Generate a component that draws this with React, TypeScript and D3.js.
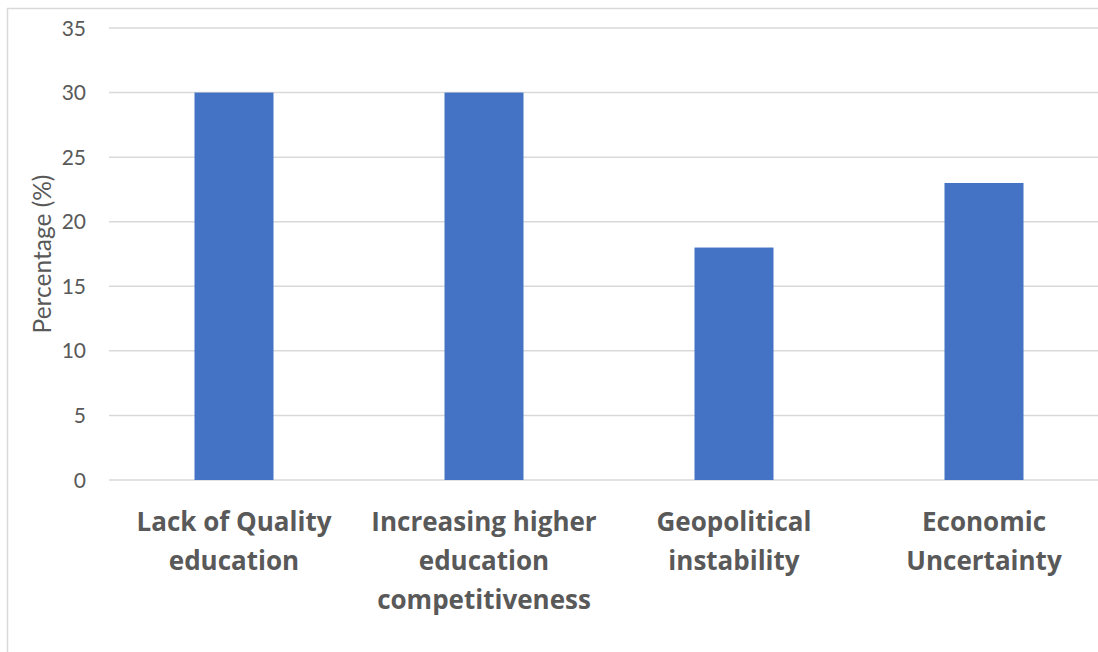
import React from "react";
import * as d3 from "d3";

// Survey results: share of respondents per factor
const categories: string[][] = [
  ["Lack of Quality", "education"],
  ["Increasing higher", "education", "competitiveness"],
  ["Geopolitical", "instability"],
  ["Economic", "Uncertainty"],
];
const values: number[] = [30, 30, 18, 23];
const yTicks: number[] = [0, 5, 10, 15, 20, 25, 30, 35];
const yLabel = "Percentage (%)";

const W = 1098;
const H = 652;
const plot = { left: 109, right: 1109, top: 28, bottom: 480 };

export default function App() {
  const keys = categories.map((c) => c.join(" "));
  const x = d3
    .scaleBand<string>()
    .domain(keys)
    .range([plot.left, plot.right])
    .paddingInner(0.684)
    .paddingOuter(0.342);
  const y = d3.scaleLinear().domain([0, 35]).range([plot.bottom, plot.top]);

  const font = "Lato, 'Open Sans', sans-serif";
  const labelFont = "'Open Sans', Lato, sans-serif";
  const textColor = "#595959";

  return (
    <svg
      width={W}
      height={H}
      style={{ position: "absolute", left: 0, top: 0, background: "#fff" }}
    >
      {/* chart frame */}
      <rect x={7.5} y={8.5} width={W + 20} height={H + 20} fill="#fff" stroke="#d9d9d9" strokeWidth={1.5} />

      {/* horizontal gridlines */}
      {yTicks.map((t) => (
        <line
          key={"g" + t}
          x1={plot.left}
          x2={plot.right}
          y1={y(t)}
          y2={y(t)}
          stroke="#d9d9d9"
          strokeWidth={1.5}
        />
      ))}

      {/* y tick labels */}
      {yTicks.map((t) => (
        <text
          key={"t" + t}
          x={86}
          y={y(t)}
          dy="0.36em"
          textAnchor="end"
          fontFamily={font}
          fontSize={21}
          fill={textColor}
        >
          {t}
        </text>
      ))}

      {/* y axis title */}
      <text
        transform={`translate(51, ${(y(0) + y(35)) / 2}) rotate(-90)`}
        textAnchor="middle"
        fontFamily={font}
        fontSize={24.5}
        fill={textColor}
      >
        {yLabel}
      </text>

      {/* bars */}
      {values.map((v, i) => (
        <rect
          key={"b" + i}
          x={x(keys[i])}
          y={y(v)}
          width={x.bandwidth()}
          height={y(0) - y(v)}
          fill="#4472C4"
        />
      ))}

      {/* category labels */}
      {categories.map((lines, i) => (
        <text
          key={"c" + i}
          x={(x(keys[i]) as number) + x.bandwidth() / 2}
          textAnchor="middle"
          fontFamily={labelFont}
          fontWeight="bold"
          fontSize={26}
          fill={textColor}
        >
          {lines.map((ln, j) => (
            <tspan key={j} x={(x(keys[i]) as number) + x.bandwidth() / 2} y={531 + j * 39}>
              {ln}
            </tspan>
          ))}
        </text>
      ))}
    </svg>
  );
}
